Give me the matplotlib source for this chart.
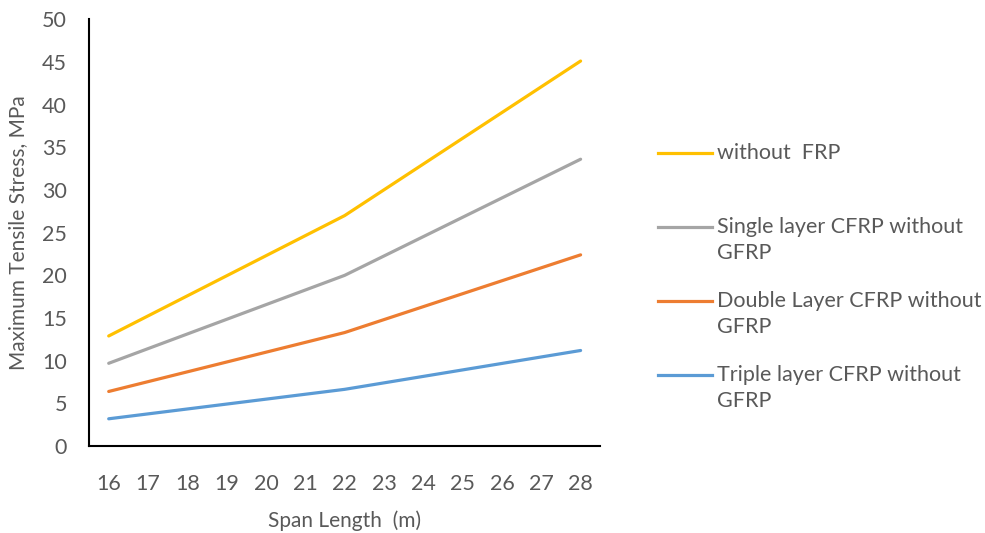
import matplotlib.pyplot as plt
from matplotlib.lines import Line2D

# span lengths shown on the category axis
span_ticks = [16, 17, 18, 19, 20, 21, 22, 23, 24, 25, 26, 27, 28]
# spans where stresses were computed
spans = [16, 22, 28]

without_frp = [12.9, 27.0, 45.1]
single_cfrp = [9.7, 20.0, 33.6]
double_cfrp = [6.4, 13.3, 22.4]
triple_cfrp = [3.2, 6.65, 11.2]

labels = ["without  FRP",
          "Single layer CFRP without\nGFRP",
          "Double Layer CFRP without\nGFRP",
          "Triple layer CFRP without\nGFRP"]
colors = ["#FFC000", "#A5A5A5", "#ED7D31", "#5B9BD5"]

plt.rcParams['font.family'] = ['Lato', 'DejaVu Sans']
text_color = '#595959'

fig = plt.figure(figsize=(9.85, 5.33), dpi=100)
ax = fig.add_axes([0.0904, 0.163, 0.519, 0.801])

series = [without_frp, single_cfrp, double_cfrp, triple_cfrp]
for vals, c in zip(series, colors):
    ax.plot(spans, vals, color=c, linewidth=2.3, solid_capstyle='round')

ax.set_xlim(15.5, 28.5)
ax.set_ylim(0, 50)
ax.set_xticks(span_ticks)
ax.set_yticks(range(0, 51, 5))
ax.tick_params(length=0, labelsize=15.5, colors=text_color)
ax.tick_params(axis='x', pad=20)
ax.tick_params(axis='y', pad=16)
for side in ['top', 'right']:
    ax.spines[side].set_visible(False)
for side in ['left', 'bottom']:
    ax.spines[side].set_linewidth(1.5)
    ax.spines[side].set_color('black')

ax.set_xlabel("Span Length  (m)", fontsize=15, color=text_color, labelpad=12)
ax.set_ylabel("Maximum Tensile Stress, MPa", fontsize=15, color=text_color, labelpad=10)

# legend drawn by hand so the line sits on the first text row, as in Excel
legend_y = [153, 227, 301, 375]
row_gap = 26
H, W = 533.0, 985.0
for lab, c, yp in zip(labels, colors, legend_y):
    yf = 1 - yp / H
    fig.add_artist(Line2D([658 / W, 712 / W], [yf, yf], color=c, linewidth=2.3,
                          transform=fig.transFigure))
    for i, row in enumerate(lab.split('\n')):
        fig.text(717 / W, 1 - (yp + i * row_gap) / H, row, fontsize=15.5,
                 color=text_color, va='center', transform=fig.transFigure)

fig.savefig("out.png", dpi=100)
